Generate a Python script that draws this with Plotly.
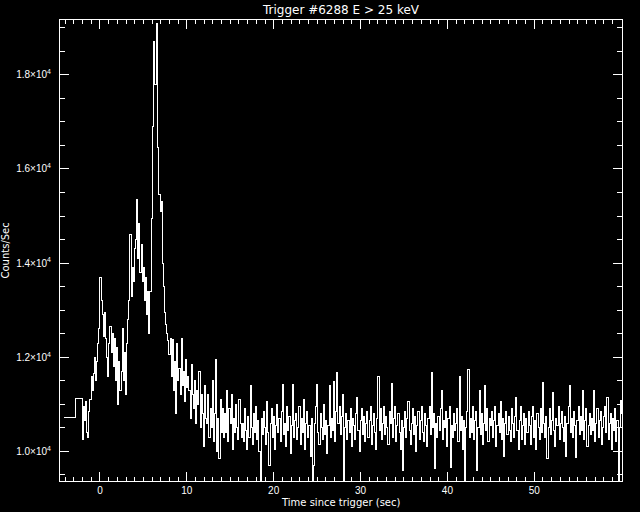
import plotly.graph_objects as go

# ---- data (counts/sec) ----
coarse_edges = [-4.16, -2.82, -2.048]
coarse_counts = [10710, 11120]

bin_width = 0.128
fine_start = -2.048

rise_counts = [10250, 10950, 10650, 11050, 10400, 10300, 10850, 11100,
               11600, 11300, 11650, 12000, 11500, 11900, 12300, 12600]
first_pulse = [13700, 13200, 12900, 12450, 12950, 12400, 12000, 11600,
               12300, 12650, 12100, 12500, 11800, 12400, 11500, 12200,
               11000, 11900, 11300, 11700, 12600, 11500, 12100, 11200,
               12300, 12800, 13200, 14600, 13300, 13900, 13600, 14300]
main_pulse = [14500, 15350, 14100, 14850, 13800, 14400, 13600, 13900,
              13200, 13700, 12900, 13400, 12500, 13400, 14950, 16900,
              18700, 17800, 17800, 19100, 16450, 15450, 15100, 15300,
              14000, 13500, 12950, 12700, 12500, 12350, 12050, 12400]
decay_counts = [11600, 12380, 11300, 11900, 10800, 12300, 11500, 11750,
                11200, 12400, 11400, 11700, 11050, 11950, 11350, 11600,
                11300, 10700, 11850, 11200, 10900, 11500, 10600, 11300,
                11000, 11700, 10500, 11200, 10800, 10100, 11400, 10700,
                10600, 11200, 10300, 10900, 10500, 11500, 10200, 10800,
                11950, 10000, 10700, 9850, 11100, 10400, 10900, 10300,
                10800, 10400, 11300, 10200, 10900, 10600, 11200, 10050,
                10700, 10400, 11000, 10500, 10250, 11100, 10600, 10300]
tail_counts = [
    10600, 10200, 10900, 10450, 10050, 10750, 10300, 11390, 10500, 10150, 10800, 10400, 10950, 10250, 10650, 10000,
    9300, 10700, 10350, 10850, 10500, 10150, 11050, 10400, 9690, 10600, 10900, 10300, 10750, 10050, 10550, 11000,
    10400, 10700, 10200, 10850, 11430, 10350, 10600, 10100, 10950, 10450, 10750, 9950, 10550, 11430, 10300, 10650,
    10800, 10250, 10500, 10950, 10150, 10700, 10400, 11100, 10050, 10600, 10850, 10300, 10550, 9900, 10700, 9300,
    9700, 10600, 10950, 11430, 10400, 10150, 10800, 10500, 10250, 11000, 10350, 10650, 9950, 10550, 11390, 10300,
    10700, 10450, 11490, 10200, 10850, 11680, 10600, 10950, 10350, 10750, 11200, 9300, 10500, 10800, 10250, 10650,
    10400, 10900, 10100, 10700, 10550, 10250, 10800, 11150, 10450, 10000, 10650, 10900, 10350, 10750, 10200, 10600,
    10850, 10300, 10650, 10950, 10150, 10550, 10800, 10400, 10050, 10700, 11600, 10450, 10900, 10250, 10600, 10950,
    10350, 10750, 10500, 10150, 10850, 10600, 11450, 10300, 10700, 10950, 10200, 10550, 10800, 10400, 10050, 10650,
    9600, 10500, 10850, 10300, 10700, 11050, 10450, 10150, 10600, 10900, 10350, 10750, 10000, 10550, 10850, 10250,
    10650, 10950, 10400, 10200, 10800, 10550, 10100, 10700, 10950, 10350, 11680, 10500, 10800, 9640, 10600, 10300,
    10750, 10450, 10900, 11300, 10250, 10650, 10500, 10850, 10100, 10700, 10950, 9650, 10550, 10300, 10800, 10450,
    10600, 10900, 10200, 11600, 10450, 10750, 10050, 10650, 9350, 10500, 10850, 11730, 10300, 10700, 10400, 10950,
    10250, 10650, 10850, 9600, 10500, 11300, 10350, 10800, 10150, 10600, 11400, 10450, 10900, 10200, 10700, 10550,
    10850, 10300, 10650, 10950, 10100, 10550, 10800, 10400, 11050, 10250, 10700, 9900, 10600, 10850, 10350, 10750,
    10450, 10200, 10900, 10600, 10300, 10750, 11150, 10450, 10050, 10650, 10950, 10250, 10550, 10800, 10150, 10700,
    10400, 10850, 10550, 10150, 10750, 10950, 10300, 10650, 10050, 10800, 10500, 10250, 10900, 10400, 11470, 10600,
    10300, 10750, 9850, 10500, 10900, 10350, 10650, 11250, 10450, 10100, 10700, 10550, 10950, 10250, 10600, 10850,
    10500, 10200, 10750, 9900, 10600, 10950, 11400, 10400, 10700, 10300, 10850, 10550, 9880, 10650, 10950, 10350,
    10750, 10450, 11300, 10250, 10650, 10900, 10100, 10550, 10800, 10350, 10700, 10450, 11300, 10200, 10600, 10900,
    10300, 10650, 10850, 10150, 10500, 10750, 10950, 10400, 11150, 10250, 10600, 10800, 10050, 10700, 10450, 10900,
    10200, 10650, 9300, 10500, 11070, 10800]

y_tick_vals = [10000, 12000, 14000, 16000, 18000]
y_tick_text = ["1.0×10<sup>4</sup>", "1.2×10<sup>4</sup>", "1.4×10<sup>4</sup>",
               "1.6×10<sup>4</sup>", "1.8×10<sup>4</sup>"]
x_tick_vals = [0, 10, 20, 30, 40, 50]

# ---- build step curve ----
fine_counts = rise_counts + first_pulse + main_pulse + decay_counts + tail_counts
fine_edges = [fine_start + i * bin_width for i in range(len(fine_counts) + 1)]

xs = coarse_edges[:-1] + fine_edges[:-1] + [fine_edges[-1]]
ys = coarse_counts + fine_counts + [fine_counts[-1]]

FONT = "DejaVu Sans"
TICKFONT = "Liberation Sans"

fig = go.Figure()
fig.add_trace(go.Scatter(x=xs, y=ys, mode="lines", line_shape="hv",
                         line=dict(color="white", width=1), hoverinfo="skip"))

axis_common = dict(showgrid=False, zeroline=False, showline=True, linecolor="white",
                   linewidth=1, mirror="ticks", ticks="inside", tickcolor="white",
                   tickwidth=1, automargin=False,
                   tickfont=dict(family=TICKFONT, size=10, color="white"))

fig.update_layout(
    width=640, height=512,
    paper_bgcolor="black", plot_bgcolor="black",
    margin=dict(l=60, r=18, t=20, b=31),
    showlegend=False,
    hovermode=False,
    title=dict(text="Trigger #6288 E > 25 keV", x=341 / 640, xref="container",
               y=1 - 10 / 512, yref="container", xanchor="center", yanchor="middle",
               font=dict(family=FONT, size=12, color="white")),
    xaxis=dict(range=[-4.6, 60.1], tickvals=x_tick_vals, ticklen=9,
               ticklabelstandoff=0,
               minor=dict(dtick=1, ticks="inside", ticklen=4, tickcolor="white"),
               **axis_common),
    yaxis=dict(range=[9370, 19165], tickvals=y_tick_vals, ticktext=y_tick_text, ticklen=9,
               ticklabelstandoff=6,
               minor=dict(tickvals=[9500 + 500 * k for k in range(20)], ticks="inside",
                          ticklen=5, tickcolor="white"),
               **axis_common),
    annotations=[
        dict(text="Time since trigger (sec)", xref="paper", yref="paper",
             x=0.5, y=-(502 - 481) / 461, xanchor="center", yanchor="middle",
             showarrow=False, font=dict(family=FONT, size=10, color="white")),
        dict(text="Counts/Sec", xref="paper", yref="paper", textangle=-90,
             x=-(60 - 5) / 562, y=0.5, xanchor="center", yanchor="middle",
             showarrow=False, font=dict(family=FONT, size=10, color="white")),
    ],
)

fig.write_html("out.html", config={"displayModeBar": False, "staticPlot": True},
               post_script=(
                   "document.body.style.margin='0';"
                   "document.querySelectorAll('.scatterlayer path').forEach(function(p){"
                   "p.style.shapeRendering='crispEdges';});"))
